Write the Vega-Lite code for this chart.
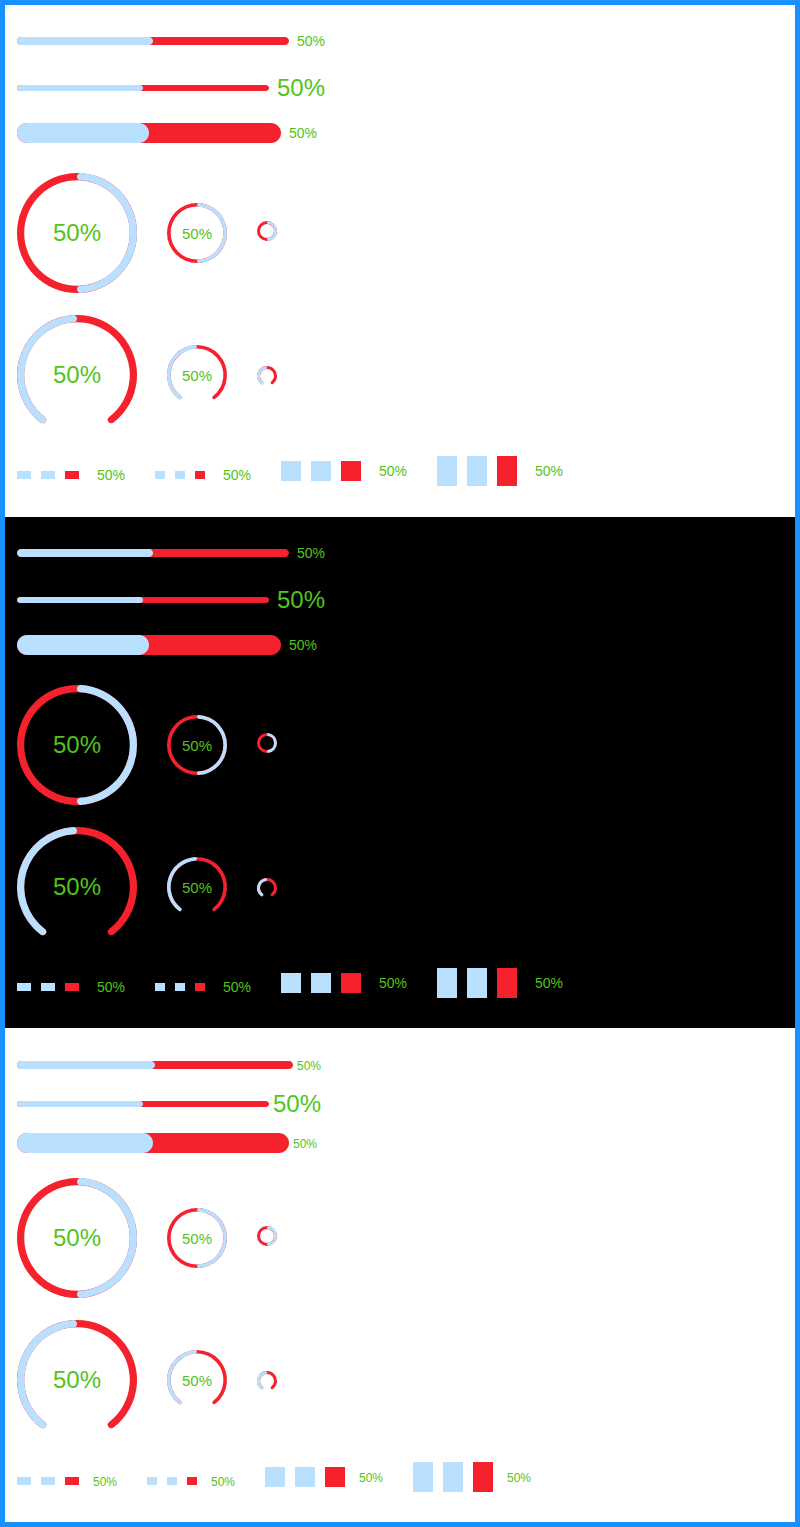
{
"$schema":"https://vega.github.io/schema/vega-lite/v6.json",
"background":"#1890ff",
"padding":5,
"spacing":0,
"config":{"view":{"stroke":null},"text":{"dy":1}},
"vconcat":[
{"width":790,"height":512,"view":{"fill":"#ffffff","stroke":null},
"resolve":{"scale":{"x":"independent","y":"independent","theta":"independent"}},
"layer":[
{"data":{"values":[{"size":"default","part":"trail","from":0,"to":100,"label":"50%"},{"size":"default","part":"stroke","from":0,"to":50,"label":"50%"}]},"encoding":{"y":{"field":"size","type":"nominal","scale":{"type":"band","domain":["default"],"range":[32,40],"paddingInner":0,"paddingOuter":0,"round":false},"axis":null}},"layer":[{"mark":{"type":"rect","cornerRadius":4},"encoding":{"x":{"field":"from","type":"quantitative","scale":{"domain":[0,100],"range":[12,284],"nice":false,"zero":false},"axis":null},"x2":{"field":"to"},"color":{"field":"part","type":"nominal","scale":{"domain":["trail","stroke"],"range":["#f5222d","#bae0ff"]},"legend":null}}},{"transform":[{"filter":"datum.part === 'trail'"}],"mark":{"type":"text","align":"left","baseline":"middle","dx":8,"dy":1,"fontSize":14,"font":"Liberation Sans","color":"#52c41a"},"encoding":{"x":{"field":"to","type":"quantitative","scale":{"domain":[0,100],"range":[12,284],"nice":false,"zero":false},"axis":null},"text":{"field":"label"}}}]},
{"data":{"values":[{"size":"small","part":"trail","from":0,"to":100,"label":"50%"},{"size":"small","part":"stroke","from":0,"to":50,"label":"50%"}]},"encoding":{"y":{"field":"size","type":"nominal","scale":{"type":"band","domain":["small"],"range":[80,86],"paddingInner":0,"paddingOuter":0,"round":false},"axis":null}},"layer":[{"mark":{"type":"rect","cornerRadius":3},"encoding":{"x":{"field":"from","type":"quantitative","scale":{"domain":[0,100],"range":[12,264],"nice":false,"zero":false},"axis":null},"x2":{"field":"to"},"color":{"field":"part","type":"nominal","scale":{"domain":["trail","stroke"],"range":["#f5222d","#bae0ff"]},"legend":null}}},{"transform":[{"filter":"datum.part === 'trail'"}],"mark":{"type":"text","align":"left","baseline":"middle","dx":8,"dy":1,"fontSize":24,"font":"Liberation Sans","color":"#52c41a"},"encoding":{"x":{"field":"to","type":"quantitative","scale":{"domain":[0,100],"range":[12,264],"nice":false,"zero":false},"axis":null},"text":{"field":"label"}}}]},
{"data":{"values":[{"size":"large","part":"trail","from":0,"to":100,"label":"50%"},{"size":"large","part":"stroke","from":0,"to":50,"label":"50%"}]},"encoding":{"y":{"field":"size","type":"nominal","scale":{"type":"band","domain":["large"],"range":[118,138],"paddingInner":0,"paddingOuter":0,"round":false},"axis":null}},"layer":[{"mark":{"type":"rect","cornerRadius":10},"encoding":{"x":{"field":"from","type":"quantitative","scale":{"domain":[0,100],"range":[12,276],"nice":false,"zero":false},"axis":null},"x2":{"field":"to"},"color":{"field":"part","type":"nominal","scale":{"domain":["trail","stroke"],"range":["#f5222d","#bae0ff"]},"legend":null}}},{"transform":[{"filter":"datum.part === 'trail'"}],"mark":{"type":"text","align":"left","baseline":"middle","dx":8,"dy":1,"fontSize":14,"font":"Liberation Sans","color":"#52c41a"},"encoding":{"x":{"field":"to","type":"quantitative","scale":{"domain":[0,100],"range":[12,276],"nice":false,"zero":false},"axis":null},"text":{"field":"label"}}}]},
{"data":{"values":[{"size":"default","part":"trail","from":0,"to":100,"label":"50%"},{"size":"default","part":"stroke","from":0,"to":50,"label":"50%"}]},"encoding":{"x":{"field":"size","type":"nominal","scale":{"type":"point","domain":["default"],"range":[72,72]},"axis":null},"y":{"field":"size","type":"nominal","scale":{"type":"point","domain":["default"],"range":[228,228]},"axis":null}},"layer":[{"mark":{"type":"arc","radius":60,"radius2":52.8,"cornerRadius":3.6},"encoding":{"theta":{"field":"from","type":"quantitative","stack":null,"scale":{"domain":[0,100],"range":[0,6.2832]}},"theta2":{"field":"to"},"color":{"field":"part","type":"nominal","scale":{"domain":["trail","stroke"],"range":["#f5222d","#bae0ff"]},"legend":null}}},{"transform":[{"filter":"datum.part === 'trail'"}],"mark":{"type":"text","align":"center","baseline":"middle","dy":1,"fontSize":24,"font":"Liberation Sans","color":"#52c41a"},"encoding":{"text":{"field":"label"}}}]},
{"data":{"values":[{"size":"small","part":"trail","from":0,"to":100,"label":"50%"},{"size":"small","part":"stroke","from":0,"to":50,"label":"50%"}]},"encoding":{"x":{"field":"size","type":"nominal","scale":{"type":"point","domain":["small"],"range":[192,192]},"axis":null},"y":{"field":"size","type":"nominal","scale":{"type":"point","domain":["small"],"range":[228,228]},"axis":null}},"layer":[{"mark":{"type":"arc","radius":30,"radius2":26.4,"cornerRadius":1.8},"encoding":{"theta":{"field":"from","type":"quantitative","stack":null,"scale":{"domain":[0,100],"range":[0,6.2832]}},"theta2":{"field":"to"},"color":{"field":"part","type":"nominal","scale":{"domain":["trail","stroke"],"range":["#f5222d","#bae0ff"]},"legend":null}}},{"transform":[{"filter":"datum.part === 'trail'"}],"mark":{"type":"text","align":"center","baseline":"middle","dy":1,"fontSize":15,"font":"Liberation Sans","color":"#52c41a"},"encoding":{"text":{"field":"label"}}}]},
{"data":{"values":[{"size":"mini","part":"trail","from":0,"to":100},{"size":"mini","part":"stroke","from":0,"to":50}]},"mark":{"type":"arc","radius":10,"radius2":7,"cornerRadius":1.5},"encoding":{"x":{"field":"size","type":"nominal","scale":{"type":"point","domain":["mini"],"range":[262,262]},"axis":null},"y":{"field":"size","type":"nominal","scale":{"type":"point","domain":["mini"],"range":[226,226]},"axis":null},"theta":{"field":"from","type":"quantitative","stack":null,"scale":{"domain":[0,100],"range":[0,6.2832]}},"theta2":{"field":"to"},"color":{"field":"part","type":"nominal","scale":{"domain":["trail","stroke"],"range":["#f5222d","#bae0ff"]},"legend":null}}},
{"data":{"values":[{"size":"default","part":"trail","from":0,"to":100,"label":"50%"},{"size":"default","part":"stroke","from":0,"to":50,"label":"50%"}]},"encoding":{"x":{"field":"size","type":"nominal","scale":{"type":"point","domain":["default"],"range":[72,72]},"axis":null},"y":{"field":"size","type":"nominal","scale":{"type":"point","domain":["default"],"range":[370,370]},"axis":null}},"layer":[{"mark":{"type":"arc","radius":60,"radius2":52.8,"cornerRadius":3.6},"encoding":{"theta":{"field":"from","type":"quantitative","stack":null,"scale":{"domain":[0,100],"range":[-2.551,2.551]}},"theta2":{"field":"to"},"color":{"field":"part","type":"nominal","scale":{"domain":["trail","stroke"],"range":["#f5222d","#bae0ff"]},"legend":null}}},{"transform":[{"filter":"datum.part === 'trail'"}],"mark":{"type":"text","align":"center","baseline":"middle","dy":1,"fontSize":24,"font":"Liberation Sans","color":"#52c41a"},"encoding":{"text":{"field":"label"}}}]},
{"data":{"values":[{"size":"small","part":"trail","from":0,"to":100,"label":"50%"},{"size":"small","part":"stroke","from":0,"to":50,"label":"50%"}]},"encoding":{"x":{"field":"size","type":"nominal","scale":{"type":"point","domain":["small"],"range":[192,192]},"axis":null},"y":{"field":"size","type":"nominal","scale":{"type":"point","domain":["small"],"range":[370,370]},"axis":null}},"layer":[{"mark":{"type":"arc","radius":30,"radius2":26.4,"cornerRadius":1.8},"encoding":{"theta":{"field":"from","type":"quantitative","stack":null,"scale":{"domain":[0,100],"range":[-2.551,2.551]}},"theta2":{"field":"to"},"color":{"field":"part","type":"nominal","scale":{"domain":["trail","stroke"],"range":["#f5222d","#bae0ff"]},"legend":null}}},{"transform":[{"filter":"datum.part === 'trail'"}],"mark":{"type":"text","align":"center","baseline":"middle","dy":1,"fontSize":15,"font":"Liberation Sans","color":"#52c41a"},"encoding":{"text":{"field":"label"}}}]},
{"data":{"values":[{"size":"mini","part":"trail","from":0,"to":100},{"size":"mini","part":"stroke","from":0,"to":50}]},"mark":{"type":"arc","radius":10,"radius2":7,"cornerRadius":1.5},"encoding":{"x":{"field":"size","type":"nominal","scale":{"type":"point","domain":["mini"],"range":[262,262]},"axis":null},"y":{"field":"size","type":"nominal","scale":{"type":"point","domain":["mini"],"range":[371,371]},"axis":null},"theta":{"field":"from","type":"quantitative","stack":null,"scale":{"domain":[0,100],"range":[-2.663,2.663]}},"theta2":{"field":"to"},"color":{"field":"part","type":"nominal","scale":{"domain":["trail","stroke"],"range":["#f5222d","#bae0ff"]},"legend":null}}},
{"data":{"values":[{"size":"default","step":"1","part":"stroke"},{"size":"default","step":"2","part":"stroke"},{"size":"default","step":"3","part":"trail"}]},"encoding":{"y":{"field":"size","type":"nominal","scale":{"type":"band","domain":["default"],"range":[466,474],"paddingInner":0,"paddingOuter":0,"round":false},"axis":null}},"layer":[{"mark":{"type":"rect"},"encoding":{"x":{"field":"step","type":"nominal","scale":{"type":"band","domain":["1","2","3","label"],"range":[12,98],"paddingInner":0.4166667,"paddingOuter":0,"round":false},"axis":null},"color":{"field":"part","type":"nominal","scale":{"domain":["trail","stroke"],"range":["#f5222d","#bae0ff"]},"legend":null}}},{"data":{"values":[{"size":"default","step":"label","label":"50%"}]},"mark":{"type":"text","align":"left","baseline":"middle","dx":8,"dy":1,"fontSize":14,"font":"Liberation Sans","color":"#52c41a"},"encoding":{"x":{"field":"step","type":"nominal","bandPosition":0,"scale":{"type":"band","domain":["1","2","3","label"],"range":[12,98],"paddingInner":0.4166667,"paddingOuter":0,"round":false},"axis":null},"text":{"field":"label"}}}]},
{"data":{"values":[{"size":"small","step":"1","part":"stroke"},{"size":"small","step":"2","part":"stroke"},{"size":"small","step":"3","part":"trail"}]},"encoding":{"y":{"field":"size","type":"nominal","scale":{"type":"band","domain":["small"],"range":[466,474],"paddingInner":0,"paddingOuter":0,"round":false},"axis":null}},"layer":[{"mark":{"type":"rect"},"encoding":{"x":{"field":"step","type":"nominal","scale":{"type":"band","domain":["1","2","3","label"],"range":[150,220],"paddingInner":0.5,"paddingOuter":0,"round":false},"axis":null},"color":{"field":"part","type":"nominal","scale":{"domain":["trail","stroke"],"range":["#f5222d","#bae0ff"]},"legend":null}}},{"data":{"values":[{"size":"small","step":"label","label":"50%"}]},"mark":{"type":"text","align":"left","baseline":"middle","dx":8,"dy":1,"fontSize":14,"font":"Liberation Sans","color":"#52c41a"},"encoding":{"x":{"field":"step","type":"nominal","bandPosition":0,"scale":{"type":"band","domain":["1","2","3","label"],"range":[150,220],"paddingInner":0.5,"paddingOuter":0,"round":false},"axis":null},"text":{"field":"label"}}}]},
{"data":{"values":[{"size":"square","step":"1","part":"stroke"},{"size":"square","step":"2","part":"stroke"},{"size":"square","step":"3","part":"trail"}]},"encoding":{"y":{"field":"size","type":"nominal","scale":{"type":"band","domain":["square"],"range":[456,476],"paddingInner":0,"paddingOuter":0,"round":false},"axis":null}},"layer":[{"mark":{"type":"rect"},"encoding":{"x":{"field":"step","type":"nominal","scale":{"type":"band","domain":["1","2","3","label"],"range":[276,386],"paddingInner":0.3333333,"paddingOuter":0,"round":false},"axis":null},"color":{"field":"part","type":"nominal","scale":{"domain":["trail","stroke"],"range":["#f5222d","#bae0ff"]},"legend":null}}},{"data":{"values":[{"size":"square","step":"label","label":"50%"}]},"mark":{"type":"text","align":"left","baseline":"middle","dx":8,"dy":1,"fontSize":14,"font":"Liberation Sans","color":"#52c41a"},"encoding":{"x":{"field":"step","type":"nominal","bandPosition":0,"scale":{"type":"band","domain":["1","2","3","label"],"range":[276,386],"paddingInner":0.3333333,"paddingOuter":0,"round":false},"axis":null},"text":{"field":"label"}}}]},
{"data":{"values":[{"size":"tall","step":"1","part":"stroke"},{"size":"tall","step":"2","part":"stroke"},{"size":"tall","step":"3","part":"trail"}]},"encoding":{"y":{"field":"size","type":"nominal","scale":{"type":"band","domain":["tall"],"range":[451,481],"paddingInner":0,"paddingOuter":0,"round":false},"axis":null}},"layer":[{"mark":{"type":"rect"},"encoding":{"x":{"field":"step","type":"nominal","scale":{"type":"band","domain":["1","2","3","label"],"range":[432,542],"paddingInner":0.3333333,"paddingOuter":0,"round":false},"axis":null},"color":{"field":"part","type":"nominal","scale":{"domain":["trail","stroke"],"range":["#f5222d","#bae0ff"]},"legend":null}}},{"data":{"values":[{"size":"tall","step":"label","label":"50%"}]},"mark":{"type":"text","align":"left","baseline":"middle","dx":8,"dy":1,"fontSize":14,"font":"Liberation Sans","color":"#52c41a"},"encoding":{"x":{"field":"step","type":"nominal","bandPosition":0,"scale":{"type":"band","domain":["1","2","3","label"],"range":[432,542],"paddingInner":0.3333333,"paddingOuter":0,"round":false},"axis":null},"text":{"field":"label"}}}]}
]},
{"width":790,"height":511,"view":{"fill":"#000000","stroke":null},
"resolve":{"scale":{"x":"independent","y":"independent","theta":"independent"}},
"layer":[
{"data":{"values":[{"size":"default","part":"trail","from":0,"to":100,"label":"50%"},{"size":"default","part":"stroke","from":0,"to":50,"label":"50%"}]},"encoding":{"y":{"field":"size","type":"nominal","scale":{"type":"band","domain":["default"],"range":[32,40],"paddingInner":0,"paddingOuter":0,"round":false},"axis":null}},"layer":[{"mark":{"type":"rect","cornerRadius":4},"encoding":{"x":{"field":"from","type":"quantitative","scale":{"domain":[0,100],"range":[12,284],"nice":false,"zero":false},"axis":null},"x2":{"field":"to"},"color":{"field":"part","type":"nominal","scale":{"domain":["trail","stroke"],"range":["#f5222d","#bae0ff"]},"legend":null}}},{"transform":[{"filter":"datum.part === 'trail'"}],"mark":{"type":"text","align":"left","baseline":"middle","dx":8,"dy":1,"fontSize":14,"font":"Liberation Sans","color":"#52c41a"},"encoding":{"x":{"field":"to","type":"quantitative","scale":{"domain":[0,100],"range":[12,284],"nice":false,"zero":false},"axis":null},"text":{"field":"label"}}}]},
{"data":{"values":[{"size":"small","part":"trail","from":0,"to":100,"label":"50%"},{"size":"small","part":"stroke","from":0,"to":50,"label":"50%"}]},"encoding":{"y":{"field":"size","type":"nominal","scale":{"type":"band","domain":["small"],"range":[80,86],"paddingInner":0,"paddingOuter":0,"round":false},"axis":null}},"layer":[{"mark":{"type":"rect","cornerRadius":3},"encoding":{"x":{"field":"from","type":"quantitative","scale":{"domain":[0,100],"range":[12,264],"nice":false,"zero":false},"axis":null},"x2":{"field":"to"},"color":{"field":"part","type":"nominal","scale":{"domain":["trail","stroke"],"range":["#f5222d","#bae0ff"]},"legend":null}}},{"transform":[{"filter":"datum.part === 'trail'"}],"mark":{"type":"text","align":"left","baseline":"middle","dx":8,"dy":1,"fontSize":24,"font":"Liberation Sans","color":"#52c41a"},"encoding":{"x":{"field":"to","type":"quantitative","scale":{"domain":[0,100],"range":[12,264],"nice":false,"zero":false},"axis":null},"text":{"field":"label"}}}]},
{"data":{"values":[{"size":"large","part":"trail","from":0,"to":100,"label":"50%"},{"size":"large","part":"stroke","from":0,"to":50,"label":"50%"}]},"encoding":{"y":{"field":"size","type":"nominal","scale":{"type":"band","domain":["large"],"range":[118,138],"paddingInner":0,"paddingOuter":0,"round":false},"axis":null}},"layer":[{"mark":{"type":"rect","cornerRadius":10},"encoding":{"x":{"field":"from","type":"quantitative","scale":{"domain":[0,100],"range":[12,276],"nice":false,"zero":false},"axis":null},"x2":{"field":"to"},"color":{"field":"part","type":"nominal","scale":{"domain":["trail","stroke"],"range":["#f5222d","#bae0ff"]},"legend":null}}},{"transform":[{"filter":"datum.part === 'trail'"}],"mark":{"type":"text","align":"left","baseline":"middle","dx":8,"dy":1,"fontSize":14,"font":"Liberation Sans","color":"#52c41a"},"encoding":{"x":{"field":"to","type":"quantitative","scale":{"domain":[0,100],"range":[12,276],"nice":false,"zero":false},"axis":null},"text":{"field":"label"}}}]},
{"data":{"values":[{"size":"default","part":"trail","from":0,"to":100,"label":"50%"},{"size":"default","part":"stroke","from":0,"to":50,"label":"50%"}]},"encoding":{"x":{"field":"size","type":"nominal","scale":{"type":"point","domain":["default"],"range":[72,72]},"axis":null},"y":{"field":"size","type":"nominal","scale":{"type":"point","domain":["default"],"range":[228,228]},"axis":null}},"layer":[{"mark":{"type":"arc","radius":60,"radius2":52.8,"cornerRadius":3.6},"encoding":{"theta":{"field":"from","type":"quantitative","stack":null,"scale":{"domain":[0,100],"range":[0,6.2832]}},"theta2":{"field":"to"},"color":{"field":"part","type":"nominal","scale":{"domain":["trail","stroke"],"range":["#f5222d","#bae0ff"]},"legend":null}}},{"transform":[{"filter":"datum.part === 'trail'"}],"mark":{"type":"text","align":"center","baseline":"middle","dy":1,"fontSize":24,"font":"Liberation Sans","color":"#52c41a"},"encoding":{"text":{"field":"label"}}}]},
{"data":{"values":[{"size":"small","part":"trail","from":0,"to":100,"label":"50%"},{"size":"small","part":"stroke","from":0,"to":50,"label":"50%"}]},"encoding":{"x":{"field":"size","type":"nominal","scale":{"type":"point","domain":["small"],"range":[192,192]},"axis":null},"y":{"field":"size","type":"nominal","scale":{"type":"point","domain":["small"],"range":[228,228]},"axis":null}},"layer":[{"mark":{"type":"arc","radius":30,"radius2":26.4,"cornerRadius":1.8},"encoding":{"theta":{"field":"from","type":"quantitative","stack":null,"scale":{"domain":[0,100],"range":[0,6.2832]}},"theta2":{"field":"to"},"color":{"field":"part","type":"nominal","scale":{"domain":["trail","stroke"],"range":["#f5222d","#bae0ff"]},"legend":null}}},{"transform":[{"filter":"datum.part === 'trail'"}],"mark":{"type":"text","align":"center","baseline":"middle","dy":1,"fontSize":15,"font":"Liberation Sans","color":"#52c41a"},"encoding":{"text":{"field":"label"}}}]},
{"data":{"values":[{"size":"mini","part":"trail","from":0,"to":100},{"size":"mini","part":"stroke","from":0,"to":50}]},"mark":{"type":"arc","radius":10,"radius2":7,"cornerRadius":1.5},"encoding":{"x":{"field":"size","type":"nominal","scale":{"type":"point","domain":["mini"],"range":[262,262]},"axis":null},"y":{"field":"size","type":"nominal","scale":{"type":"point","domain":["mini"],"range":[226,226]},"axis":null},"theta":{"field":"from","type":"quantitative","stack":null,"scale":{"domain":[0,100],"range":[0,6.2832]}},"theta2":{"field":"to"},"color":{"field":"part","type":"nominal","scale":{"domain":["trail","stroke"],"range":["#f5222d","#bae0ff"]},"legend":null}}},
{"data":{"values":[{"size":"default","part":"trail","from":0,"to":100,"label":"50%"},{"size":"default","part":"stroke","from":0,"to":50,"label":"50%"}]},"encoding":{"x":{"field":"size","type":"nominal","scale":{"type":"point","domain":["default"],"range":[72,72]},"axis":null},"y":{"field":"size","type":"nominal","scale":{"type":"point","domain":["default"],"range":[370,370]},"axis":null}},"layer":[{"mark":{"type":"arc","radius":60,"radius2":52.8,"cornerRadius":3.6},"encoding":{"theta":{"field":"from","type":"quantitative","stack":null,"scale":{"domain":[0,100],"range":[-2.551,2.551]}},"theta2":{"field":"to"},"color":{"field":"part","type":"nominal","scale":{"domain":["trail","stroke"],"range":["#f5222d","#bae0ff"]},"legend":null}}},{"transform":[{"filter":"datum.part === 'trail'"}],"mark":{"type":"text","align":"center","baseline":"middle","dy":1,"fontSize":24,"font":"Liberation Sans","color":"#52c41a"},"encoding":{"text":{"field":"label"}}}]},
{"data":{"values":[{"size":"small","part":"trail","from":0,"to":100,"label":"50%"},{"size":"small","part":"stroke","from":0,"to":50,"label":"50%"}]},"encoding":{"x":{"field":"size","type":"nominal","scale":{"type":"point","domain":["small"],"range":[192,192]},"axis":null},"y":{"field":"size","type":"nominal","scale":{"type":"point","domain":["small"],"range":[370,370]},"axis":null}},"layer":[{"mark":{"type":"arc","radius":30,"radius2":26.4,"cornerRadius":1.8},"encoding":{"theta":{"field":"from","type":"quantitative","stack":null,"scale":{"domain":[0,100],"range":[-2.551,2.551]}},"theta2":{"field":"to"},"color":{"field":"part","type":"nominal","scale":{"domain":["trail","stroke"],"range":["#f5222d","#bae0ff"]},"legend":null}}},{"transform":[{"filter":"datum.part === 'trail'"}],"mark":{"type":"text","align":"center","baseline":"middle","dy":1,"fontSize":15,"font":"Liberation Sans","color":"#52c41a"},"encoding":{"text":{"field":"label"}}}]},
{"data":{"values":[{"size":"mini","part":"trail","from":0,"to":100},{"size":"mini","part":"stroke","from":0,"to":50}]},"mark":{"type":"arc","radius":10,"radius2":7,"cornerRadius":1.5},"encoding":{"x":{"field":"size","type":"nominal","scale":{"type":"point","domain":["mini"],"range":[262,262]},"axis":null},"y":{"field":"size","type":"nominal","scale":{"type":"point","domain":["mini"],"range":[371,371]},"axis":null},"theta":{"field":"from","type":"quantitative","stack":null,"scale":{"domain":[0,100],"range":[-2.663,2.663]}},"theta2":{"field":"to"},"color":{"field":"part","type":"nominal","scale":{"domain":["trail","stroke"],"range":["#f5222d","#bae0ff"]},"legend":null}}},
{"data":{"values":[{"size":"default","step":"1","part":"stroke"},{"size":"default","step":"2","part":"stroke"},{"size":"default","step":"3","part":"trail"}]},"encoding":{"y":{"field":"size","type":"nominal","scale":{"type":"band","domain":["default"],"range":[466,474],"paddingInner":0,"paddingOuter":0,"round":false},"axis":null}},"layer":[{"mark":{"type":"rect"},"encoding":{"x":{"field":"step","type":"nominal","scale":{"type":"band","domain":["1","2","3","label"],"range":[12,98],"paddingInner":0.4166667,"paddingOuter":0,"round":false},"axis":null},"color":{"field":"part","type":"nominal","scale":{"domain":["trail","stroke"],"range":["#f5222d","#bae0ff"]},"legend":null}}},{"data":{"values":[{"size":"default","step":"label","label":"50%"}]},"mark":{"type":"text","align":"left","baseline":"middle","dx":8,"dy":1,"fontSize":14,"font":"Liberation Sans","color":"#52c41a"},"encoding":{"x":{"field":"step","type":"nominal","bandPosition":0,"scale":{"type":"band","domain":["1","2","3","label"],"range":[12,98],"paddingInner":0.4166667,"paddingOuter":0,"round":false},"axis":null},"text":{"field":"label"}}}]},
{"data":{"values":[{"size":"small","step":"1","part":"stroke"},{"size":"small","step":"2","part":"stroke"},{"size":"small","step":"3","part":"trail"}]},"encoding":{"y":{"field":"size","type":"nominal","scale":{"type":"band","domain":["small"],"range":[466,474],"paddingInner":0,"paddingOuter":0,"round":false},"axis":null}},"layer":[{"mark":{"type":"rect"},"encoding":{"x":{"field":"step","type":"nominal","scale":{"type":"band","domain":["1","2","3","label"],"range":[150,220],"paddingInner":0.5,"paddingOuter":0,"round":false},"axis":null},"color":{"field":"part","type":"nominal","scale":{"domain":["trail","stroke"],"range":["#f5222d","#bae0ff"]},"legend":null}}},{"data":{"values":[{"size":"small","step":"label","label":"50%"}]},"mark":{"type":"text","align":"left","baseline":"middle","dx":8,"dy":1,"fontSize":14,"font":"Liberation Sans","color":"#52c41a"},"encoding":{"x":{"field":"step","type":"nominal","bandPosition":0,"scale":{"type":"band","domain":["1","2","3","label"],"range":[150,220],"paddingInner":0.5,"paddingOuter":0,"round":false},"axis":null},"text":{"field":"label"}}}]},
{"data":{"values":[{"size":"square","step":"1","part":"stroke"},{"size":"square","step":"2","part":"stroke"},{"size":"square","step":"3","part":"trail"}]},"encoding":{"y":{"field":"size","type":"nominal","scale":{"type":"band","domain":["square"],"range":[456,476],"paddingInner":0,"paddingOuter":0,"round":false},"axis":null}},"layer":[{"mark":{"type":"rect"},"encoding":{"x":{"field":"step","type":"nominal","scale":{"type":"band","domain":["1","2","3","label"],"range":[276,386],"paddingInner":0.3333333,"paddingOuter":0,"round":false},"axis":null},"color":{"field":"part","type":"nominal","scale":{"domain":["trail","stroke"],"range":["#f5222d","#bae0ff"]},"legend":null}}},{"data":{"values":[{"size":"square","step":"label","label":"50%"}]},"mark":{"type":"text","align":"left","baseline":"middle","dx":8,"dy":1,"fontSize":14,"font":"Liberation Sans","color":"#52c41a"},"encoding":{"x":{"field":"step","type":"nominal","bandPosition":0,"scale":{"type":"band","domain":["1","2","3","label"],"range":[276,386],"paddingInner":0.3333333,"paddingOuter":0,"round":false},"axis":null},"text":{"field":"label"}}}]},
{"data":{"values":[{"size":"tall","step":"1","part":"stroke"},{"size":"tall","step":"2","part":"stroke"},{"size":"tall","step":"3","part":"trail"}]},"encoding":{"y":{"field":"size","type":"nominal","scale":{"type":"band","domain":["tall"],"range":[451,481],"paddingInner":0,"paddingOuter":0,"round":false},"axis":null}},"layer":[{"mark":{"type":"rect"},"encoding":{"x":{"field":"step","type":"nominal","scale":{"type":"band","domain":["1","2","3","label"],"range":[432,542],"paddingInner":0.3333333,"paddingOuter":0,"round":false},"axis":null},"color":{"field":"part","type":"nominal","scale":{"domain":["trail","stroke"],"range":["#f5222d","#bae0ff"]},"legend":null}}},{"data":{"values":[{"size":"tall","step":"label","label":"50%"}]},"mark":{"type":"text","align":"left","baseline":"middle","dx":8,"dy":1,"fontSize":14,"font":"Liberation Sans","color":"#52c41a"},"encoding":{"x":{"field":"step","type":"nominal","bandPosition":0,"scale":{"type":"band","domain":["1","2","3","label"],"range":[432,542],"paddingInner":0.3333333,"paddingOuter":0,"round":false},"axis":null},"text":{"field":"label"}}}]}
]},
{"width":790,"height":494,"view":{"fill":"#ffffff","stroke":null},
"resolve":{"scale":{"x":"independent","y":"independent","theta":"independent"}},
"layer":[
{"data":{"values":[{"size":"default","part":"trail","from":0,"to":100,"label":"50%"},{"size":"default","part":"stroke","from":0,"to":50,"label":"50%"}]},"encoding":{"y":{"field":"size","type":"nominal","scale":{"type":"band","domain":["default"],"range":[33,41],"paddingInner":0,"paddingOuter":0,"round":false},"axis":null}},"layer":[{"mark":{"type":"rect","cornerRadius":4},"encoding":{"x":{"field":"from","type":"quantitative","scale":{"domain":[0,100],"range":[12,288],"nice":false,"zero":false},"axis":null},"x2":{"field":"to"},"color":{"field":"part","type":"nominal","scale":{"domain":["trail","stroke"],"range":["#f5222d","#bae0ff"]},"legend":null}}},{"transform":[{"filter":"datum.part === 'trail'"}],"mark":{"type":"text","align":"left","baseline":"middle","dx":4,"dy":1,"fontSize":12,"font":"Liberation Sans","color":"#52c41a"},"encoding":{"x":{"field":"to","type":"quantitative","scale":{"domain":[0,100],"range":[12,288],"nice":false,"zero":false},"axis":null},"text":{"field":"label"}}}]},
{"data":{"values":[{"size":"small","part":"trail","from":0,"to":100,"label":"50%"},{"size":"small","part":"stroke","from":0,"to":50,"label":"50%"}]},"encoding":{"y":{"field":"size","type":"nominal","scale":{"type":"band","domain":["small"],"range":[73,79],"paddingInner":0,"paddingOuter":0,"round":false},"axis":null}},"layer":[{"mark":{"type":"rect","cornerRadius":3},"encoding":{"x":{"field":"from","type":"quantitative","scale":{"domain":[0,100],"range":[12,264],"nice":false,"zero":false},"axis":null},"x2":{"field":"to"},"color":{"field":"part","type":"nominal","scale":{"domain":["trail","stroke"],"range":["#f5222d","#bae0ff"]},"legend":null}}},{"transform":[{"filter":"datum.part === 'trail'"}],"mark":{"type":"text","align":"left","baseline":"middle","dx":4,"dy":1,"fontSize":24,"font":"Liberation Sans","color":"#52c41a"},"encoding":{"x":{"field":"to","type":"quantitative","scale":{"domain":[0,100],"range":[12,264],"nice":false,"zero":false},"axis":null},"text":{"field":"label"}}}]},
{"data":{"values":[{"size":"large","part":"trail","from":0,"to":100,"label":"50%"},{"size":"large","part":"stroke","from":0,"to":50,"label":"50%"}]},"encoding":{"y":{"field":"size","type":"nominal","scale":{"type":"band","domain":["large"],"range":[105,125],"paddingInner":0,"paddingOuter":0,"round":false},"axis":null}},"layer":[{"mark":{"type":"rect","cornerRadius":10},"encoding":{"x":{"field":"from","type":"quantitative","scale":{"domain":[0,100],"range":[12,284],"nice":false,"zero":false},"axis":null},"x2":{"field":"to"},"color":{"field":"part","type":"nominal","scale":{"domain":["trail","stroke"],"range":["#f5222d","#bae0ff"]},"legend":null}}},{"transform":[{"filter":"datum.part === 'trail'"}],"mark":{"type":"text","align":"left","baseline":"middle","dx":4,"dy":1,"fontSize":12,"font":"Liberation Sans","color":"#52c41a"},"encoding":{"x":{"field":"to","type":"quantitative","scale":{"domain":[0,100],"range":[12,284],"nice":false,"zero":false},"axis":null},"text":{"field":"label"}}}]},
{"data":{"values":[{"size":"default","part":"trail","from":0,"to":100,"label":"50%"},{"size":"default","part":"stroke","from":0,"to":50,"label":"50%"}]},"encoding":{"x":{"field":"size","type":"nominal","scale":{"type":"point","domain":["default"],"range":[72,72]},"axis":null},"y":{"field":"size","type":"nominal","scale":{"type":"point","domain":["default"],"range":[210,210]},"axis":null}},"layer":[{"mark":{"type":"arc","radius":60,"radius2":52.8,"cornerRadius":3.6},"encoding":{"theta":{"field":"from","type":"quantitative","stack":null,"scale":{"domain":[0,100],"range":[0,6.2832]}},"theta2":{"field":"to"},"color":{"field":"part","type":"nominal","scale":{"domain":["trail","stroke"],"range":["#f5222d","#bae0ff"]},"legend":null}}},{"transform":[{"filter":"datum.part === 'trail'"}],"mark":{"type":"text","align":"center","baseline":"middle","dy":1,"fontSize":24,"font":"Liberation Sans","color":"#52c41a"},"encoding":{"text":{"field":"label"}}}]},
{"data":{"values":[{"size":"small","part":"trail","from":0,"to":100,"label":"50%"},{"size":"small","part":"stroke","from":0,"to":50,"label":"50%"}]},"encoding":{"x":{"field":"size","type":"nominal","scale":{"type":"point","domain":["small"],"range":[192,192]},"axis":null},"y":{"field":"size","type":"nominal","scale":{"type":"point","domain":["small"],"range":[210,210]},"axis":null}},"layer":[{"mark":{"type":"arc","radius":30,"radius2":26.4,"cornerRadius":1.8},"encoding":{"theta":{"field":"from","type":"quantitative","stack":null,"scale":{"domain":[0,100],"range":[0,6.2832]}},"theta2":{"field":"to"},"color":{"field":"part","type":"nominal","scale":{"domain":["trail","stroke"],"range":["#f5222d","#bae0ff"]},"legend":null}}},{"transform":[{"filter":"datum.part === 'trail'"}],"mark":{"type":"text","align":"center","baseline":"middle","dy":1,"fontSize":15,"font":"Liberation Sans","color":"#52c41a"},"encoding":{"text":{"field":"label"}}}]},
{"data":{"values":[{"size":"mini","part":"trail","from":0,"to":100},{"size":"mini","part":"stroke","from":0,"to":50}]},"mark":{"type":"arc","radius":10,"radius2":7,"cornerRadius":1.5},"encoding":{"x":{"field":"size","type":"nominal","scale":{"type":"point","domain":["mini"],"range":[262,262]},"axis":null},"y":{"field":"size","type":"nominal","scale":{"type":"point","domain":["mini"],"range":[208,208]},"axis":null},"theta":{"field":"from","type":"quantitative","stack":null,"scale":{"domain":[0,100],"range":[0,6.2832]}},"theta2":{"field":"to"},"color":{"field":"part","type":"nominal","scale":{"domain":["trail","stroke"],"range":["#f5222d","#bae0ff"]},"legend":null}}},
{"data":{"values":[{"size":"default","part":"trail","from":0,"to":100,"label":"50%"},{"size":"default","part":"stroke","from":0,"to":50,"label":"50%"}]},"encoding":{"x":{"field":"size","type":"nominal","scale":{"type":"point","domain":["default"],"range":[72,72]},"axis":null},"y":{"field":"size","type":"nominal","scale":{"type":"point","domain":["default"],"range":[352,352]},"axis":null}},"layer":[{"mark":{"type":"arc","radius":60,"radius2":52.8,"cornerRadius":3.6},"encoding":{"theta":{"field":"from","type":"quantitative","stack":null,"scale":{"domain":[0,100],"range":[-2.551,2.551]}},"theta2":{"field":"to"},"color":{"field":"part","type":"nominal","scale":{"domain":["trail","stroke"],"range":["#f5222d","#bae0ff"]},"legend":null}}},{"transform":[{"filter":"datum.part === 'trail'"}],"mark":{"type":"text","align":"center","baseline":"middle","dy":1,"fontSize":24,"font":"Liberation Sans","color":"#52c41a"},"encoding":{"text":{"field":"label"}}}]},
{"data":{"values":[{"size":"small","part":"trail","from":0,"to":100,"label":"50%"},{"size":"small","part":"stroke","from":0,"to":50,"label":"50%"}]},"encoding":{"x":{"field":"size","type":"nominal","scale":{"type":"point","domain":["small"],"range":[192,192]},"axis":null},"y":{"field":"size","type":"nominal","scale":{"type":"point","domain":["small"],"range":[352,352]},"axis":null}},"layer":[{"mark":{"type":"arc","radius":30,"radius2":26.4,"cornerRadius":1.8},"encoding":{"theta":{"field":"from","type":"quantitative","stack":null,"scale":{"domain":[0,100],"range":[-2.551,2.551]}},"theta2":{"field":"to"},"color":{"field":"part","type":"nominal","scale":{"domain":["trail","stroke"],"range":["#f5222d","#bae0ff"]},"legend":null}}},{"transform":[{"filter":"datum.part === 'trail'"}],"mark":{"type":"text","align":"center","baseline":"middle","dy":1,"fontSize":15,"font":"Liberation Sans","color":"#52c41a"},"encoding":{"text":{"field":"label"}}}]},
{"data":{"values":[{"size":"mini","part":"trail","from":0,"to":100},{"size":"mini","part":"stroke","from":0,"to":50}]},"mark":{"type":"arc","radius":10,"radius2":7,"cornerRadius":1.5},"encoding":{"x":{"field":"size","type":"nominal","scale":{"type":"point","domain":["mini"],"range":[262,262]},"axis":null},"y":{"field":"size","type":"nominal","scale":{"type":"point","domain":["mini"],"range":[353,353]},"axis":null},"theta":{"field":"from","type":"quantitative","stack":null,"scale":{"domain":[0,100],"range":[-2.663,2.663]}},"theta2":{"field":"to"},"color":{"field":"part","type":"nominal","scale":{"domain":["trail","stroke"],"range":["#f5222d","#bae0ff"]},"legend":null}}},
{"data":{"values":[{"size":"default","step":"1","part":"stroke"},{"size":"default","step":"2","part":"stroke"},{"size":"default","step":"3","part":"trail"}]},"encoding":{"y":{"field":"size","type":"nominal","scale":{"type":"band","domain":["default"],"range":[449,457],"paddingInner":0,"paddingOuter":0,"round":false},"axis":null}},"layer":[{"mark":{"type":"rect"},"encoding":{"x":{"field":"step","type":"nominal","scale":{"type":"band","domain":["1","2","3","label"],"range":[12,98],"paddingInner":0.4166667,"paddingOuter":0,"round":false},"axis":null},"color":{"field":"part","type":"nominal","scale":{"domain":["trail","stroke"],"range":["#f5222d","#bae0ff"]},"legend":null}}},{"data":{"values":[{"size":"default","step":"label","label":"50%"}]},"mark":{"type":"text","align":"left","baseline":"middle","dx":4,"dy":1,"fontSize":12,"font":"Liberation Sans","color":"#52c41a"},"encoding":{"x":{"field":"step","type":"nominal","bandPosition":0,"scale":{"type":"band","domain":["1","2","3","label"],"range":[12,98],"paddingInner":0.4166667,"paddingOuter":0,"round":false},"axis":null},"text":{"field":"label"}}}]},
{"data":{"values":[{"size":"small","step":"1","part":"stroke"},{"size":"small","step":"2","part":"stroke"},{"size":"small","step":"3","part":"trail"}]},"encoding":{"y":{"field":"size","type":"nominal","scale":{"type":"band","domain":["small"],"range":[449,457],"paddingInner":0,"paddingOuter":0,"round":false},"axis":null}},"layer":[{"mark":{"type":"rect"},"encoding":{"x":{"field":"step","type":"nominal","scale":{"type":"band","domain":["1","2","3","label"],"range":[142,212],"paddingInner":0.5,"paddingOuter":0,"round":false},"axis":null},"color":{"field":"part","type":"nominal","scale":{"domain":["trail","stroke"],"range":["#f5222d","#bae0ff"]},"legend":null}}},{"data":{"values":[{"size":"small","step":"label","label":"50%"}]},"mark":{"type":"text","align":"left","baseline":"middle","dx":4,"dy":1,"fontSize":12,"font":"Liberation Sans","color":"#52c41a"},"encoding":{"x":{"field":"step","type":"nominal","bandPosition":0,"scale":{"type":"band","domain":["1","2","3","label"],"range":[142,212],"paddingInner":0.5,"paddingOuter":0,"round":false},"axis":null},"text":{"field":"label"}}}]},
{"data":{"values":[{"size":"square","step":"1","part":"stroke"},{"size":"square","step":"2","part":"stroke"},{"size":"square","step":"3","part":"trail"}]},"encoding":{"y":{"field":"size","type":"nominal","scale":{"type":"band","domain":["square"],"range":[439,459],"paddingInner":0,"paddingOuter":0,"round":false},"axis":null}},"layer":[{"mark":{"type":"rect"},"encoding":{"x":{"field":"step","type":"nominal","scale":{"type":"band","domain":["1","2","3","label"],"range":[260,370],"paddingInner":0.3333333,"paddingOuter":0,"round":false},"axis":null},"color":{"field":"part","type":"nominal","scale":{"domain":["trail","stroke"],"range":["#f5222d","#bae0ff"]},"legend":null}}},{"data":{"values":[{"size":"square","step":"label","label":"50%"}]},"mark":{"type":"text","align":"left","baseline":"middle","dx":4,"dy":1,"fontSize":12,"font":"Liberation Sans","color":"#52c41a"},"encoding":{"x":{"field":"step","type":"nominal","bandPosition":0,"scale":{"type":"band","domain":["1","2","3","label"],"range":[260,370],"paddingInner":0.3333333,"paddingOuter":0,"round":false},"axis":null},"text":{"field":"label"}}}]},
{"data":{"values":[{"size":"tall","step":"1","part":"stroke"},{"size":"tall","step":"2","part":"stroke"},{"size":"tall","step":"3","part":"trail"}]},"encoding":{"y":{"field":"size","type":"nominal","scale":{"type":"band","domain":["tall"],"range":[434,464],"paddingInner":0,"paddingOuter":0,"round":false},"axis":null}},"layer":[{"mark":{"type":"rect"},"encoding":{"x":{"field":"step","type":"nominal","scale":{"type":"band","domain":["1","2","3","label"],"range":[408,518],"paddingInner":0.3333333,"paddingOuter":0,"round":false},"axis":null},"color":{"field":"part","type":"nominal","scale":{"domain":["trail","stroke"],"range":["#f5222d","#bae0ff"]},"legend":null}}},{"data":{"values":[{"size":"tall","step":"label","label":"50%"}]},"mark":{"type":"text","align":"left","baseline":"middle","dx":4,"dy":1,"fontSize":12,"font":"Liberation Sans","color":"#52c41a"},"encoding":{"x":{"field":"step","type":"nominal","bandPosition":0,"scale":{"type":"band","domain":["1","2","3","label"],"range":[408,518],"paddingInner":0.3333333,"paddingOuter":0,"round":false},"axis":null},"text":{"field":"label"}}}]}
]}
]
}
